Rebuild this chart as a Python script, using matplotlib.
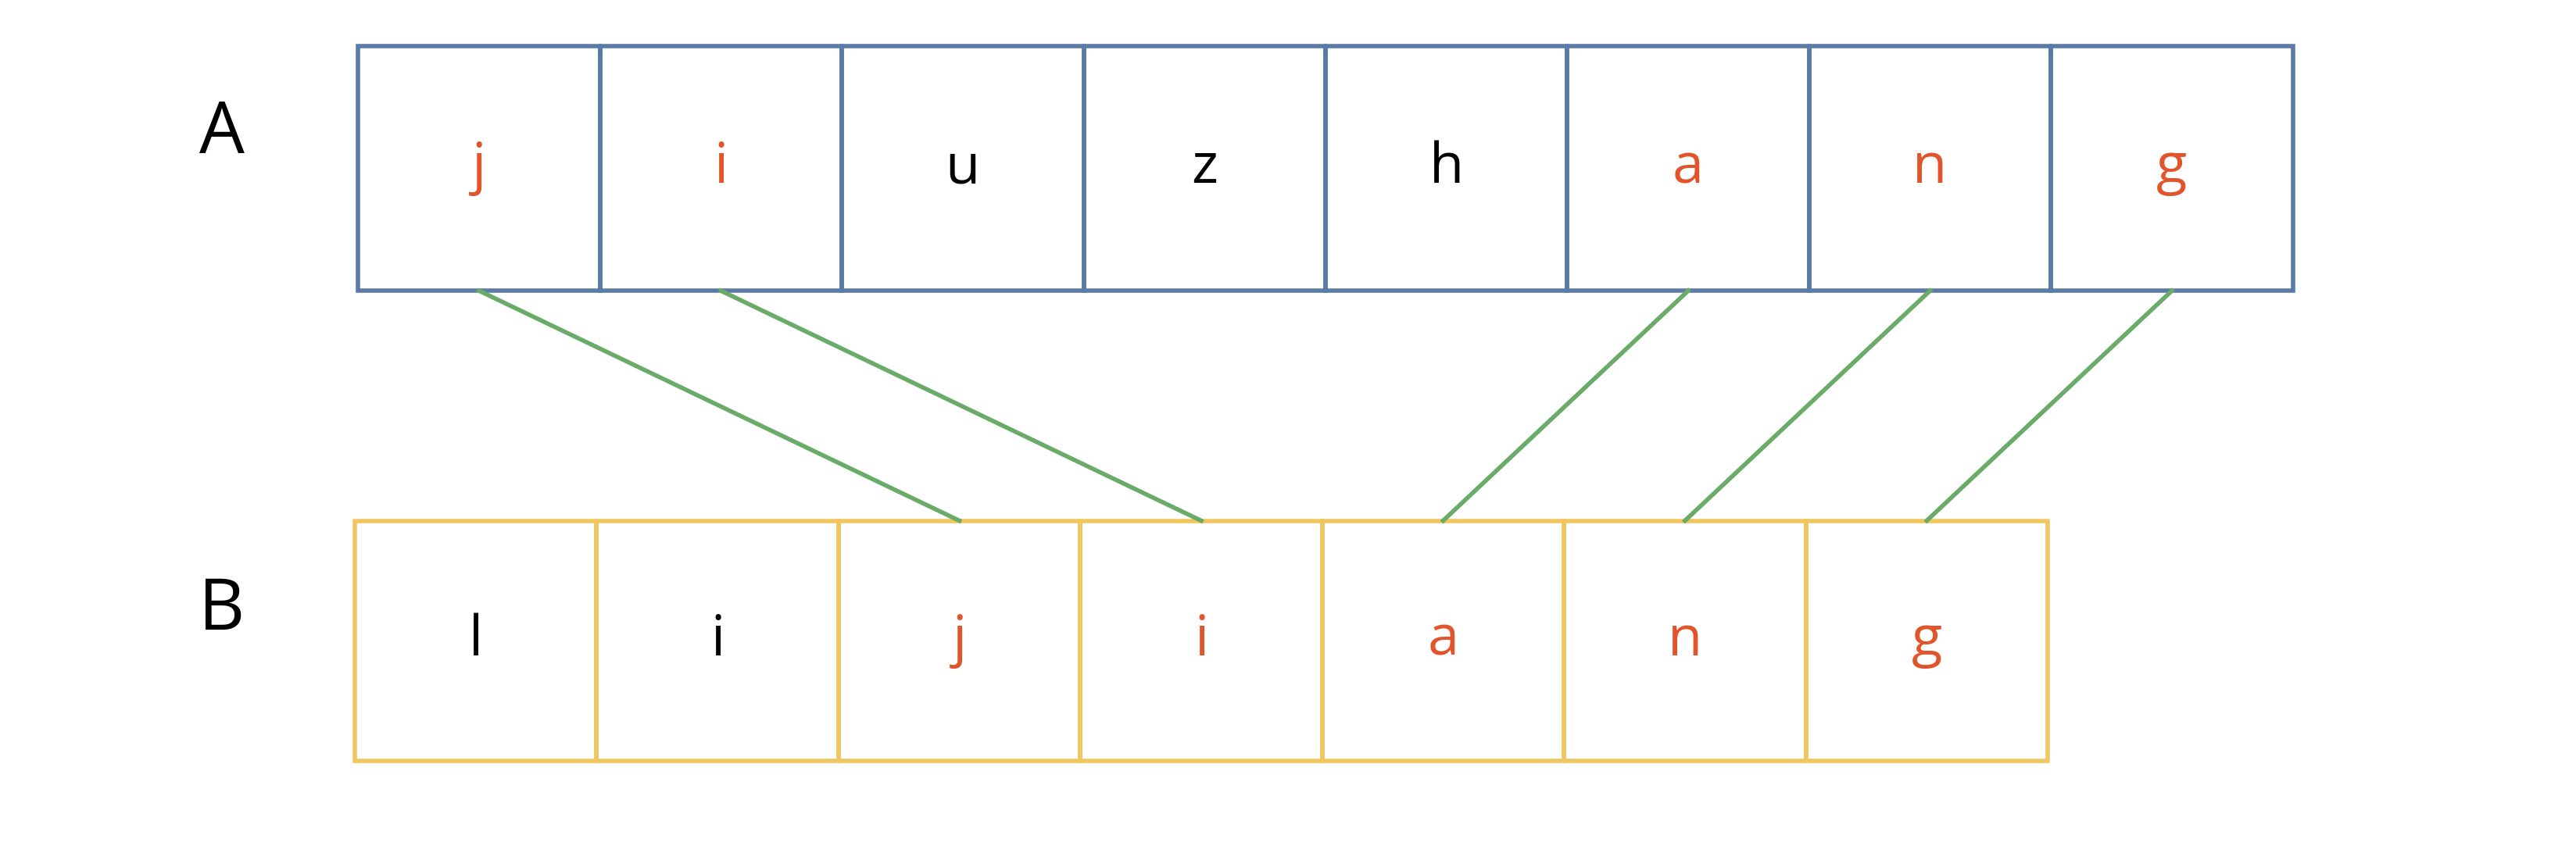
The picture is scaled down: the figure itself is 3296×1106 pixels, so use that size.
import matplotlib
matplotlib.use("Agg")
import matplotlib.pyplot as plt
from matplotlib.patches import Rectangle

# data
word_a = list("jiuzhang")
word_b = list("lijiang")
red_a = [0, 1, 5, 6, 7]
red_b = [2, 3, 4, 5, 6]
matches = [(0, 2), (1, 3), (5, 4), (6, 5), (7, 6)]

W, H = 1568, 526
fig = plt.figure(figsize=(32.96, 11.06), dpi=100)
ax = fig.add_axes([0, 0, 1, 1])
ax.set_xlim(0, W)
ax.set_ylim(H, 0)
ax.axis('off')

red = '#e0552b'
box = 147.2
ax_a, ay_a, h_a = 218, 28, 149
ax_b, ay_b, h_b = 216, 317, 146

for i, ch in enumerate(word_a):
    ax.add_patch(Rectangle((ax_a + i * box, ay_a), box, h_a, fill=False,
                           ec='#5b7aa6', lw=4))
    ax.text(ax_a + (i + 0.5) * box, ay_a + h_a / 2, ch, ha='center', va='center',
            fontsize=52, family='Open Sans',
            color=red if i in red_a else 'black')

for i, ch in enumerate(word_b):
    ax.add_patch(Rectangle((ax_b + i * box, ay_b), box, h_b, fill=False,
                           ec='#f0c75e', lw=4))
    ax.text(ax_b + (i + 0.5) * box, ay_b + h_b / 2, ch, ha='center', va='center',
            fontsize=52, family='Open Sans',
            color=red if i in red_b else 'black')

for a, b in matches:
    ax.plot([ax_a + (a + 0.5) * box, ax_b + (b + 0.5) * box],
            [ay_a + h_a, ay_b], color='#6aab6a', lw=4)

ax.text(135, 82, 'A', ha='center', va='center', fontsize=66, family='Open Sans')
ax.text(135, 372, 'B', ha='center', va='center', fontsize=66, family='Open Sans')

fig.savefig('out.png')
